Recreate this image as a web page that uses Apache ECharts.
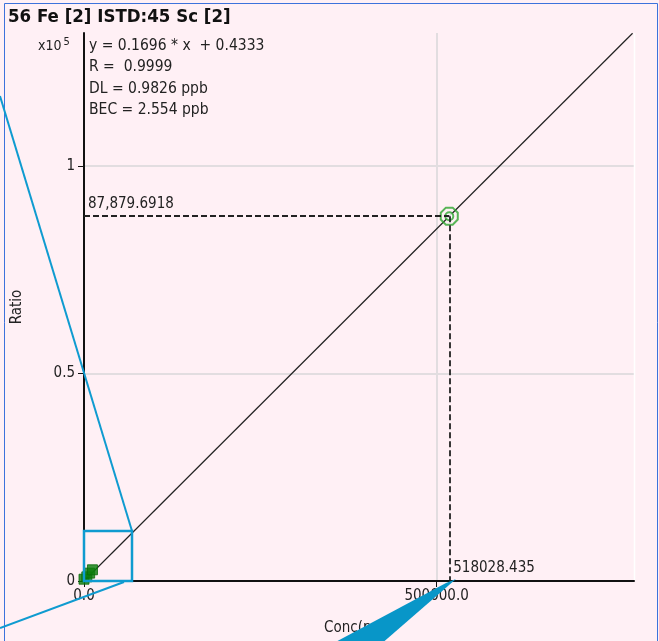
<!DOCTYPE html>
<html>
<head>
<meta charset="utf-8">
<script src="https://cdn.jsdelivr.net/npm/echarts@6/dist/echarts.min.js"></script>
<style>
html, body { margin: 0; padding: 0; background: #fff0f5; }
#chart { width: 659px; height: 641px; }
</style>
</head>
<body>
<div id="chart"></div>
<script>
// calibration standards (conc, ratio) near the origin
const calConc = [0, 4000, 8000, 12000];
const calRatio = [430, 1000, 1900, 2700];
// highlighted point
const pointConc = 518028.435;
const pointRatio = 87879.6918;
// fit line end points
const fitConc = [0, 778000];
const fitRatio = [0.4333, 131950];
const xTicks = [0, 500000];
const yTicks = [0, 50000, 100000];
const titleText = '56 Fe [2] ISTD:45 Sc [2]';
const infoLines = ['y = 0.1696 * x  + 0.4333', 'R =  0.9999', 'DL = 0.9826 ppb', 'BEC = 2.554 ppb'];

const FONT = '"Liberation Sans Narrow", "DejaVu Sans Condensed", "Arial Narrow", sans-serif';
const BLUE = '#0f9bd0';
const GRID = '#e2dde0';

const chart = echarts.init(document.getElementById('chart'));

chart.setOption({
    backgroundColor: '#fff0f5',
    animation: false,
    grid: {
        left: 84,
        right: 25,
        top: 33,
        bottom: 60,
        show: true,
        backgroundColor: '#fff0f5',
        borderWidth: 0
    },
    xAxis: {
        type: 'value',
        min: 0,
        max: 780000,
        interval: 500000,
        name: 'Conc(ppb)',
        nameLocation: 'middle',
        nameGap: 40,
        nameTextStyle: { fontFamily: FONT, fontSize: 15, color: '#222' },
        axisLine: { lineStyle: { color: '#111', width: 2 } },
        axisTick: { show: true, length: 6, customValues: xTicks, lineStyle: { color: '#111' } },
        axisLabel: {
            customValues: xTicks,
            margin: 8,
            fontFamily: FONT,
            fontSize: 15,
            color: '#222',
            formatter: v => v.toFixed(1)
        },
        splitLine: { show: true, showMinLine: false, lineStyle: { color: GRID, width: 2 } }
    },
    yAxis: {
        type: 'value',
        min: 0,
        max: 132000,
        interval: 50000,
        name: 'Ratio',
        nameLocation: 'middle',
        nameGap: 59,
        nameTextStyle: { fontFamily: FONT, fontSize: 15, color: '#222' },
        axisLine: { show: true, lineStyle: { color: '#111', width: 2 } },
        axisTick: { show: true, length: 6, customValues: yTicks, lineStyle: { color: '#111' } },
        axisLabel: {
            customValues: yTicks,
            margin: 9,
            fontFamily: FONT,
            fontSize: 15,
            color: '#222',
            formatter: v => String(v / 100000)
        },
        splitLine: { show: true, showMinLine: false, lineStyle: { color: GRID, width: 2 } }
    },
    series: [
        {
            name: 'fit',
            type: 'line',
            data: fitConc.map((c, i) => [c, fitRatio[i]]),
            symbol: 'none',
            lineStyle: { color: '#222', width: 1.2 },
            silent: true,
            z: 2
        },
        {
            name: 'standards',
            type: 'scatter',
            data: calConc.map((c, i) => [c, calRatio[i]]),
            symbol: 'rect',
            symbolSize: 10,
            itemStyle: { color: '#0b7d0b', borderColor: '#086a08', borderWidth: 1 },
            z: 3
        },
        {
            name: 'point',
            type: 'scatter',
            data: [[pointConc, pointRatio]],
            symbol: 'path://M3,0 L7,0 L10,3 L10,7 L7,10 L3,10 L0,7 L0,3 Z',
            symbolSize: 17,
            itemStyle: { color: 'rgba(0,0,0,0)', borderColor: '#2ea52e', borderWidth: 2 },
            z: 4,
            markLine: {
                silent: true,
                symbol: 'none',
                label: { show: false },
                lineStyle: { type: [6, 3], color: '#222', width: 1.8 },
                data: [
                    [{ coord: [0, pointRatio] }, { coord: [pointConc, pointRatio] }],
                    [{ coord: [pointConc, pointRatio] }, { coord: [pointConc, 0] }]
                ]
            },
            markPoint: {
                symbol: 'circle',
                symbolSize: 0,
                label: { fontFamily: FONT, fontSize: 15, color: '#222', position: 'right', distance: 4 },
                data: [
                    {
                        coord: [0, pointRatio],
                        label: { formatter: pointRatio.toLocaleString('en-US', { minimumFractionDigits: 4 }), offset: [0, -12] }
                    },
                    {
                        coord: [pointConc, 0],
                        label: { formatter: String(pointConc), offset: [0, -13] }
                    }
                ]
            }
        },
        {
            name: 'pointInner',
            type: 'scatter',
            data: [[pointConc, pointRatio]],
            symbol: 'emptyCircle',
            symbolSize: 8,
            itemStyle: { color: '#2ea52e', borderColor: '#2ea52e', borderWidth: 1.5 },
            z: 4
        }
    ],
    graphic: [
        {
            type: 'line',
            shape: { x1: 634.5, y1: 33, x2: 634.5, y2: 580 },
            style: { stroke: '#ffffff', lineWidth: 1.5 },
            silent: true,
            z: 1
        },
        {
            type: 'rect',
            shape: { x: 4.5, y: 3.5, width: 653, height: 645 },
            style: { fill: 'none', stroke: '#3d72dc', lineWidth: 1 },
            silent: true,
            z: 50
        },
        {
            type: 'text',
            left: 8,
            top: 8,
            style: { text: titleText, fontFamily: FONT, fontWeight: 'bold', fontSize: 18.5, fill: '#111' },
            z: 50
        },
        {
            type: 'text',
            left: 38,
            top: 37,
            style: {
                text: 'x10{s|5}',
                fontFamily: FONT,
                fontSize: 14,
                fill: '#222',
                rich: { s: { fontFamily: FONT, fontSize: 11, verticalAlign: 'top', padding: [0, 0, 8, 2] } }
            },
            z: 50
        },
        {
            type: 'text',
            left: 89,
            top: 35,
            style: { text: infoLines.join('\n'), fontFamily: FONT, fontSize: 15.5, lineHeight: 21.5, fill: '#222' },
            z: 50
        },
        {
            type: 'rect',
            shape: { x: 84, y: 531, width: 48, height: 50 },
            style: { fill: 'none', stroke: BLUE, lineWidth: 2.5 },
            silent: true,
            z: 60
        },
        {
            type: 'line',
            shape: { x1: 0, y1: 96, x2: 132, y2: 531 },
            style: { stroke: BLUE, lineWidth: 2 },
            silent: true,
            z: 60
        },
        {
            type: 'line',
            shape: { x1: 0, y1: 628, x2: 124, y2: 582 },
            style: { stroke: BLUE, lineWidth: 2 },
            silent: true,
            z: 60
        },
        {
            type: 'polygon',
            shape: { points: [[446, 583], [456, 579], [380, 645], [330, 645]] },
            style: { fill: '#0896c8' },
            silent: true,
            z: 60
        }
    ]
});
</script>
</body>
</html>
